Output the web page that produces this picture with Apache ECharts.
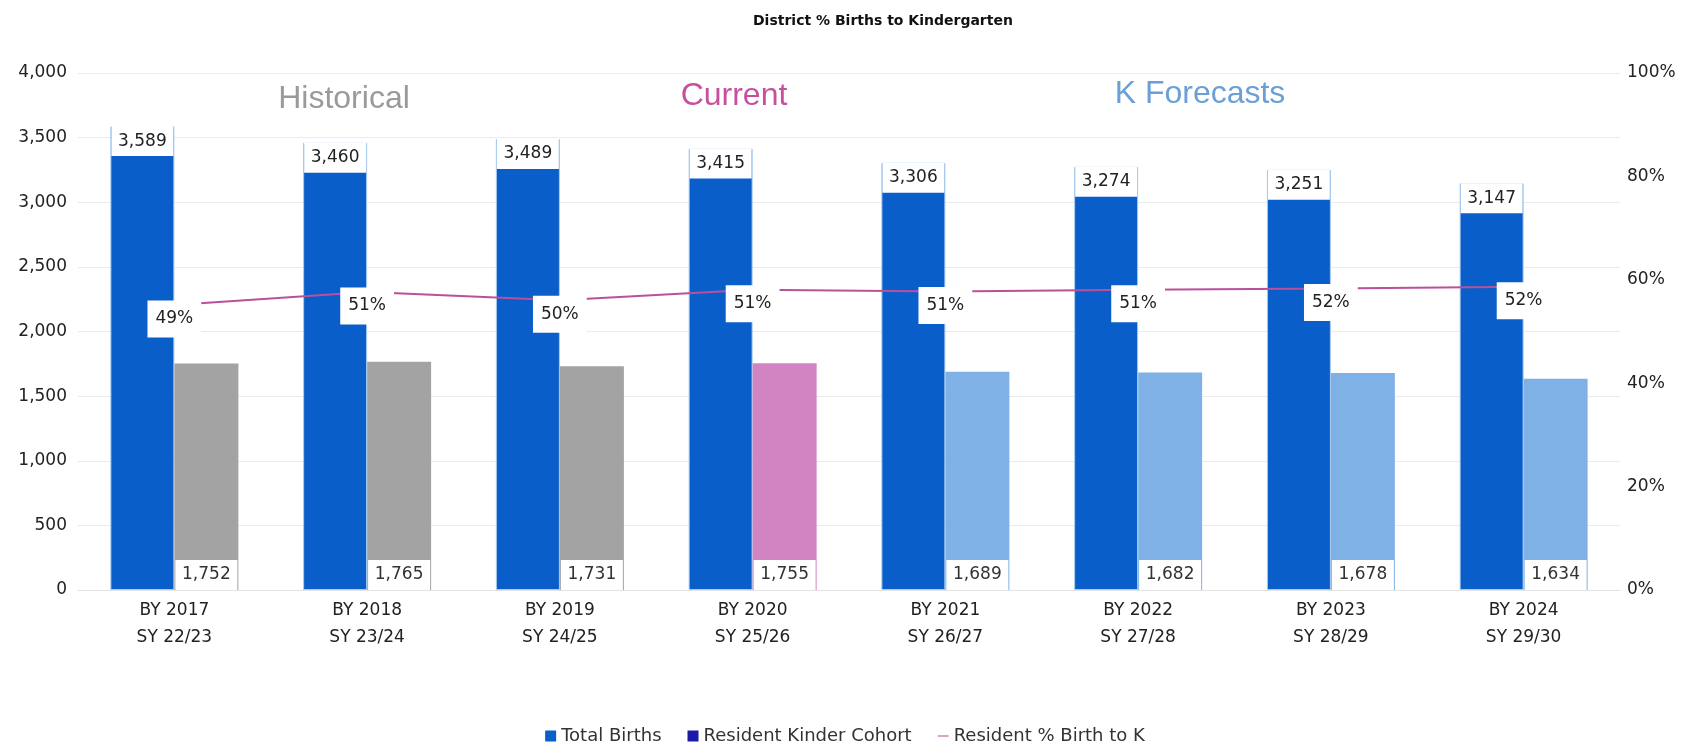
<!DOCTYPE html>
<html><head><meta charset="utf-8">
<script src="https://cdn.jsdelivr.net/npm/echarts@6/dist/echarts.min.js"></script>
<style>html,body{margin:0;padding:0;background:#fff}#c{width:1690px;height:745px}</style>
</head><body><div id="c"></div>
<script>
const categories = ['BY 2017\nSY 22/23','BY 2018\nSY 23/24','BY 2019\nSY 24/25','BY 2020\nSY 25/26','BY 2021\nSY 26/27','BY 2022\nSY 27/28','BY 2023\nSY 28/29','BY 2024\nSY 29/30'];
const totalBirths = [3589,3460,3489,3415,3306,3274,3251,3147];
const kinderCohort = [1752,1765,1731,1755,1689,1682,1678,1634];
const birthToK = [0.488,0.510,0.496,0.514,0.511,0.514,0.516,0.519];
const leftTicks = [0,500,1000,1500,2000,2500,3000,3500,4000];
const rightTicks = [0,0.2,0.4,0.6,0.8,1.0];
const phaseColors = ['#a3a3a3','#a3a3a3','#a3a3a3','#d283c2','#80b1e6','#80b1e6','#80b1e6','#80b1e6'];
const phaseNames = ['Historical','Current','K Forecasts'];

const FONT = 'DejaVu Sans';
const fmt = v => v.toLocaleString('en-US');
const chart = echarts.init(document.getElementById('c'));
chart.setOption({
  animation:false,
  backgroundColor:'#fff',
  textStyle:{fontFamily:FONT},
  title:{text:'District % Births to Kindergarten',left:748,top:9,
    textStyle:{fontFamily:FONT,fontSize:14,fontWeight:'bold',color:'#111'}},
  grid:{left:78,right:70,top:73,bottom:155},
  legend:{top:722,left:'center',itemWidth:11,itemHeight:11,itemGap:26,
    itemStyle:{borderWidth:0},
    textStyle:{fontFamily:FONT,fontSize:18,color:'#333'},
    data:[{name:'Total Births',icon:'rect'},{name:'Resident Kinder Cohort',icon:'rect'},
      {name:'Resident % Birth to K',icon:'path://M0,0 L16,0 L16,1.5 L0,1.5 Z'}]},
  xAxis:{type:'category',data:categories,
    axisLine:{lineStyle:{color:'#e3e3e3'}},axisTick:{show:false},
    axisLabel:{fontFamily:FONT,fontSize:17,lineHeight:27,color:'#222',margin:7}},
  yAxis:[
    {type:'value',min:leftTicks[0],max:leftTicks[leftTicks.length-1],interval:leftTicks[1]-leftTicks[0],
      axisLine:{show:false},axisTick:{show:false},
      splitLine:{lineStyle:{color:'#ebebeb'}},
      axisLabel:{fontFamily:FONT,fontSize:17,color:'#222',margin:11,formatter:v=>fmt(v)}},
    {type:'value',min:rightTicks[0],max:rightTicks[rightTicks.length-1],interval:rightTicks[1]-rightTicks[0],
      position:'right',axisLine:{show:false},axisTick:{show:false},splitLine:{show:false},
      axisLabel:{fontFamily:FONT,fontSize:17,color:'#222',margin:7,formatter:v=>Math.round(v*100)+'%'}},
    {type:'value',min:0,max:0.885,show:false,splitLine:{show:false}}
  ],
  series:[
    {name:'Total Births',type:'bar',data:totalBirths,barWidth:64,barGap:'0%',z:2,
      itemStyle:{color:'#0a5eca',borderColor:'#a9cbef',borderWidth:1},
      label:{show:true,position:'insideTop',distance:0,formatter:p=>fmt(p.value),
        backgroundColor:'#fff',width:62,padding:[7,0,7,0],lineHeight:16,align:'center',
        fontFamily:FONT,fontSize:17,color:'#222'}},
    {name:'Resident Kinder Cohort',type:'bar',data:kinderCohort,barWidth:64,z:2,color:'#1a1aa8',
      itemStyle:{color:p=>phaseColors[p.dataIndex]},
      label:{show:true,position:'insideBottom',distance:0,formatter:p=>fmt(p.value),
        backgroundColor:'#fff',width:62,padding:[7,0,7,0],lineHeight:16,align:'center',
        fontFamily:FONT,fontSize:17,color:'#333'}},
    {name:'Resident % Birth to K',type:'line',yAxisIndex:2,data:birthToK,z:5,
      symbol:'circle',symbolSize:1,showSymbol:true,
      lineStyle:{color:'#b9509a',width:2},itemStyle:{color:'#b9509a'},
      label:{show:true,position:'inside',offset:[0,14],formatter:p=>Math.round(p.value*100)+'%',
        backgroundColor:'#fff',padding:[10,8,10,8],lineHeight:17,
        fontFamily:FONT,fontSize:17,color:'#222'}}
  ],
  graphic:[
    {type:'text',x:344,y:99,z:100,style:{text:phaseNames[0],fill:'#9a9a9a',font:'32px "Liberation Sans"',textAlign:'center',textVerticalAlign:'middle'}},
    {type:'text',x:734,y:96,z:100,style:{text:phaseNames[1],fill:'#c7509e',font:'32px "Liberation Sans"',textAlign:'center',textVerticalAlign:'middle'}},
    {type:'text',x:1200,y:94,z:100,style:{text:phaseNames[2],fill:'#6b9fd6',font:'32px "Liberation Sans"',textAlign:'center',textVerticalAlign:'middle'}}
  ]
});
</script></body></html>
